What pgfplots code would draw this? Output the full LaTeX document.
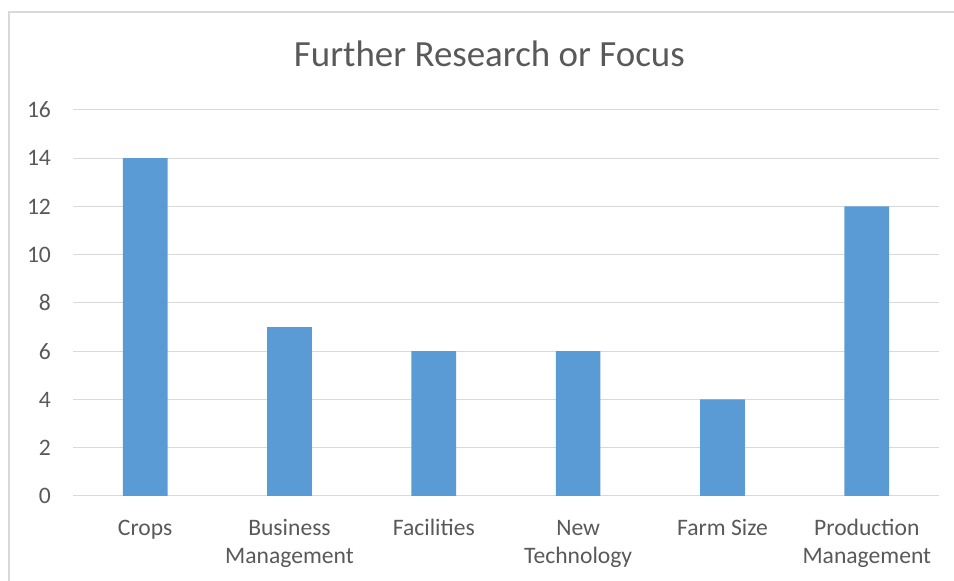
\documentclass[border=0pt]{standalone}
\usepackage{pgfplots}
\pgfplotsset{compat=1.18}
\usepackage{fontspec}
\setmainfont{Carlito}
\definecolor{barblue}{HTML}{5B9BD5}
\definecolor{gridgray}{HTML}{D9D9D9}
\definecolor{txtgray}{HTML}{595959}
\begin{document}
\begin{tikzpicture}[x=1pt,y=1pt]
\path[use as bounding box] (0,0) rectangle (715.5,435.75);
\draw[gridgray, line width=0.9pt] (6.75,0) -- (6.75,426.75) -- (716,426.75);
\begin{axis}[
  at={(54.75pt,63.75pt)}, anchor=south west,
  scale only axis, width=649.5pt, height=289.5pt,
  xmin=-0.5, xmax=5.5, ymin=0, ymax=16,
  ytick={0,2,4,6,8,10,12,14,16},
  xtick={0,1,2,3,4,5},
  xticklabels={\strut Crops,\strut Business\\\strut Management,\strut Facilities,\strut New\\\strut Technology,\strut Farm Size,\strut Production\\\strut Management},
  major tick length=0pt,
  axis line style={draw=none},
  ymajorgrids, grid style={gridgray, line width=0.75pt},
  /pgf/number format/assume math mode=true,
  tick label style={font=\fontsize{17.7}{21}\selectfont, text=txtgray},
  yticklabel style={xshift=-13pt},
  xticklabel style={align=center, anchor=north, inner sep=0pt, yshift=-14.5pt},
  ybar, bar width=33.5pt,
]
\addplot[fill=barblue, draw=none] coordinates {(0,14) (1,7) (2,6) (3,6) (4,4) (5,12)};
\end{axis}
\node[anchor=base, text=txtgray, font=\fontsize{27.7}{32}\selectfont] at (367,385.5) {Further Research or Focus};
\end{tikzpicture}
\end{document}
